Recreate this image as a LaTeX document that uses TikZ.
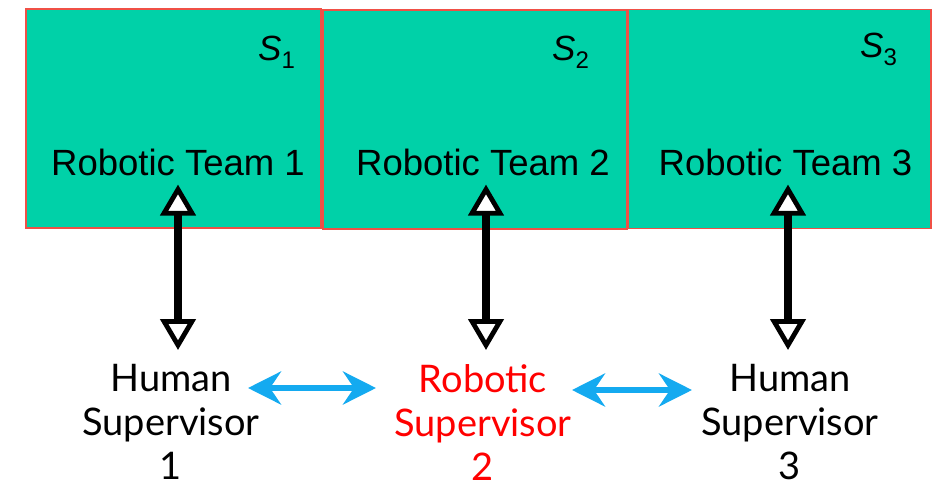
\documentclass[tikz,border=0pt]{standalone}
\usepackage{fontspec}
\setmainfont{Liberation Sans}
\newfontfamily\supfont{Lato}
\usetikzlibrary{arrows.meta}
\definecolor{teal1}{RGB}{0,209,168}
\definecolor{boxred}{RGB}{240,80,70}
\definecolor{skyb}{RGB}{20,170,240}
\definecolor{pure red}{RGB}{255,0,0}
\begin{document}
\begin{tikzpicture}[x=1pt,y=-1pt,
  teambox/.style={draw=boxred,line width=1.3pt,fill=teal1,minimum height=219pt,inner sep=0pt},
  teamlabel/.style={anchor=base,inner xsep=0pt,inner ysep=9pt,font=\fontsize{36.5}{42}\selectfont},
  slabel/.style={anchor=base west,inner sep=0pt,font=\fontsize{35}{42}\selectfont},
  suplabel/.style={anchor=north,align=center,inner xsep=0pt,inner ysep=0pt,font=\supfont\fontsize{38}{44}\selectfont},
  opentip/.tip={Triangle[open,fill=white,length=31pt,width=35pt,line width'=4.8pt]},
  linkarrow/.style={line width=7.5pt,opentip-opentip},
  peertip/.tip={Stealth[length=33pt,width=33pt,inset=11pt]},
  peerarrow/.style={draw=skyb,line width=6pt,peertip-peertip}
]
\useasboundingbox (0,0) rectangle (946,488);
\node[teambox,minimum width=295pt] (B1) at (173.5,118.5) {};
\node[teambox,minimum width=304pt] (B2) at (475,119.5) {};
\node[teambox,minimum width=303pt] (B3) at (779.5,119) {};

\node[slabel] (S1) at (258,60) {\textit{S}\raisebox{-8pt}{\fontsize{24}{24}\selectfont 1}};
\node[slabel] (S2) at (552,60) {\textit{S}\raisebox{-8pt}{\fontsize{24}{24}\selectfont 2}};
\node[slabel] (S3) at (860,57) {\textit{S}\raisebox{-8pt}{\fontsize{24}{24}\selectfont 3}};

\node[teamlabel] (T1) at (178,175) {Robotic Team 1};
\node[teamlabel] (T2) at (483,175) {Robotic Team 2};
\node[teamlabel] (T3) at (785.5,175) {Robotic Team 3};

\node[suplabel] (H1) at (171,364) {Human\\Supervisor\\1};
\node[suplabel,text=pure red] (R2) at (483,364) {Robotic\\Supervisor\\2};
\node[suplabel] (H3) at (790,364) {Human\\Supervisor\\3};

\draw[linkarrow,shorten >=14pt] (T1.south) -- (T1.south |- H1.north);
\draw[linkarrow,shorten >=14pt] ([xshift=3pt]T2.south) -- ([xshift=3pt]T2.south |- R2.north);
\draw[linkarrow,shorten >=14pt] ([xshift=2.5pt]T3.south) -- ([xshift=2.5pt]T3.south |- H3.north);

\coordinate (P1) at (248,388);
\coordinate (P2) at (376,388);
\coordinate (P3) at (572,390);
\coordinate (P4) at (692,390);
\draw[peerarrow] (P1) -- (P2);
\draw[peerarrow] (P3) -- (P4);
\end{tikzpicture}
\end{document}
